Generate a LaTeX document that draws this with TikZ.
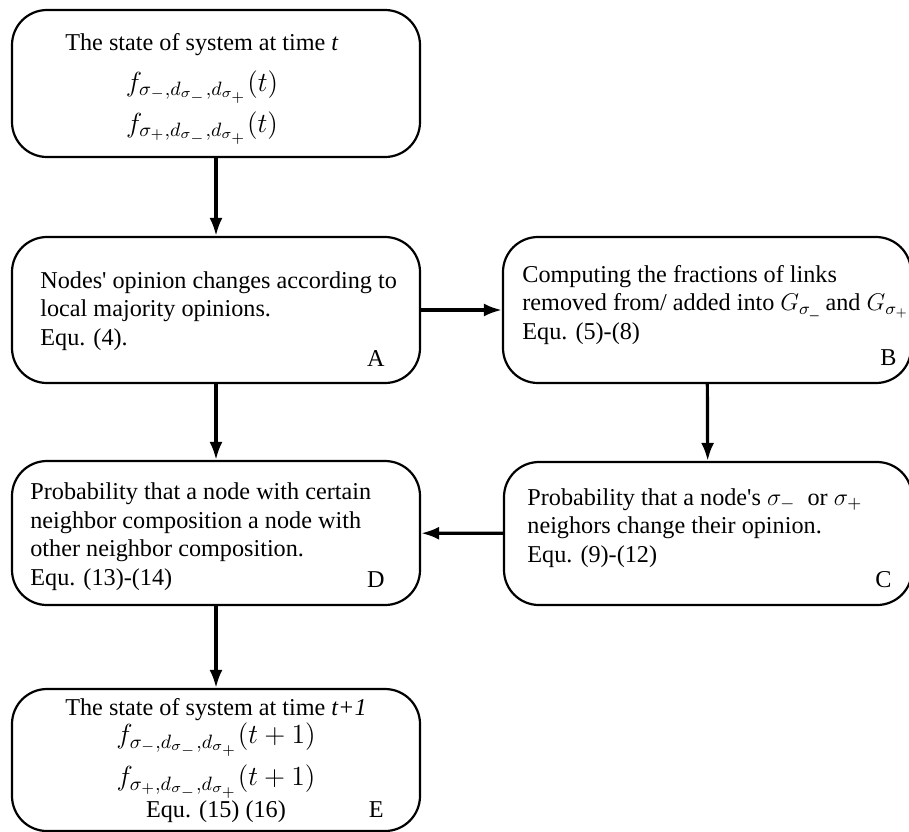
\RequirePackage{fix-cm}
\documentclass[tikz,border=0pt]{standalone}
\usepackage{amsmath,amssymb}
\usepackage{fontspec}
\setmainfont{Liberation Serif}
\usetikzlibrary{arrows.meta}

% f_{sigma, d-, d+}(arg) at the larger size
\newcommand{\fsys}[2]{{\fontsize{13.8pt}{20pt}\selectfont$f_{\sigma_{#1},d_{\sigma_-},d_{\sigma_+}}(#2)$}}

\begin{document}
\begin{tikzpicture}[x=0.5pt,y=-0.5pt,
    blok/.style={draw,line width=1.1pt,rounded corners=17.5pt,inner sep=0pt,
      minimum width=204pt,minimum height=73pt},
    txt/.style={inner sep=0pt,align=left,anchor=base west,
      font=\fontsize{12.1pt}{14.2pt}\selectfont},
    mid/.style={txt,align=center,anchor=base},
    lbl/.style={inner sep=0pt,anchor=base east,font=\fontsize{12.1pt}{14pt}\selectfont},
    arr/.style={line width=1.6pt,-{Latex[length=9pt,width=6.5pt]}}]
        \useasboundingbox (0,0) rectangle (909,831);

        % boxes
        \node[blok,minimum height=73.5pt] (state) at (216,83.5) {};
        \node[blok] (opinion) at (216,310) {};
        \node[blok] (links) at (707,310) {};
        \node[blok,minimum height=71.5pt] (neigh) at (708,533.5) {};
        \node[blok,minimum height=72pt] (prob) at (216,533) {};
        \node[blok,minimum height=71pt] (next) at (216,760) {};

        % texts (placed at the baseline of their last line)
        \node[mid,font=\fontsize{12.1pt}{20.5pt}\selectfont] (state-txt) at (202,132)
            {The state of system at time \textit{t}\\ \fsys{-}{t}\\ \fsys{+}{t}};
        \node[txt] (opinion-txt) at (40,345)
            {Nodes\textquotesingle{} opinion changes according to\\ local majority opinions.\\ Equ. (4).};
        \node[txt] (links-txt) at (522,339)
            {Computing the fractions of links\\ removed from/ added into $G_{\sigma\_}$ and $G_{\sigma_+}$\\ Equ. (5)-(8)};
        \node[txt] (neigh-txt) at (527,562)
            {Probability that a node\textquotesingle s $\sigma_-$\ \ or\ $\sigma_+$\\ neighors change their opinion.\\ Equ. (9)-(12)};
        \node[txt] (prob-txt) at (30,585)
            {Probability that a node with certain\\ neighbor composition a node with\\ other neighbor composition.\\ Equ. (13)-(14)};
        \node[mid,font=\fontsize{12.1pt}{14pt}\selectfont] (next-txt) at (216,817)
            {The state of system at time \textit{t+1}\\ \fsys{-}{t+1}\\[3.5pt] \fsys{+}{t+1}\\ Equ. (15) (16)};

        % letters
        \node[lbl] (lA) at (385,366) {A};
        \node[lbl] (lB) at (897,365) {B};
        \node[lbl] (lC) at (892,587) {C};
        \node[lbl] (lD) at (385,587) {D};
        \node[lbl] (lE) at (384,817) {E};

        % arrows
        \draw[arr] (state) -- (opinion);
        \draw[arr] (opinion) -- (links);
        \draw[arr] (links) -- (neigh);
        \draw[arr] (neigh) -- (prob);
        \draw[arr] (opinion) -- (prob);
        \draw[arr] (prob) -- (next);
    \end{tikzpicture}
\end{document}
